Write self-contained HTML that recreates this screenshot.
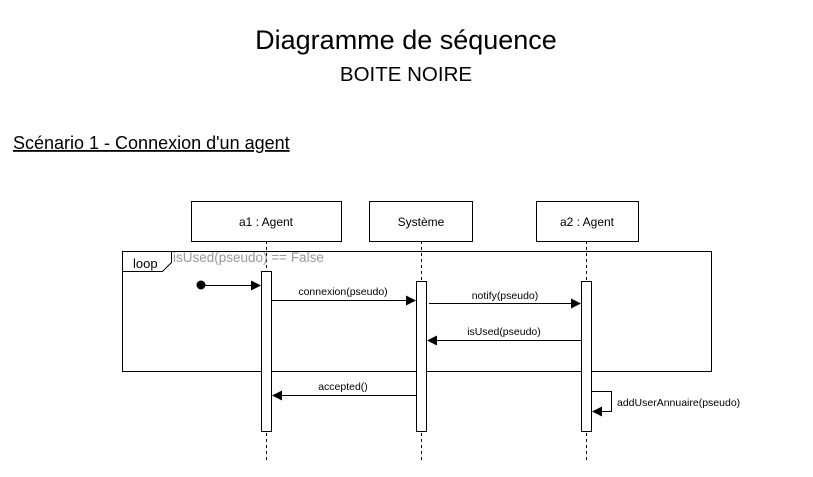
<!DOCTYPE html>
<html><head><meta charset="utf-8"><style>html,body{margin:0;padding:0;background:#fff;}</style></head>
<body>
<svg width="813" height="472" viewBox="0 0 813 472" xmlns="http://www.w3.org/2000/svg" font-family="Liberation Sans, Arial, sans-serif">
<defs>
<marker id="a" markerWidth="10" markerHeight="10" refX="9" refY="5" orient="auto" markerUnits="userSpaceOnUse"><path d="M0,0 L10,5 L0,10 Z" fill="#000"/></marker>
</defs>
<rect width="813" height="472" fill="#fff"/>
<text x="406" y="49" font-size="27" text-anchor="middle">Diagramme de séquence</text>
<text x="406" y="81" font-size="20.5" text-anchor="middle">BOITE NOIRE</text>
<text x="13" y="149" font-size="18" text-decoration="underline">Scénario 1 - Connexion d'un agent</text>
<g stroke="#000" stroke-dasharray="3,3" stroke-width="1">
<line x1="266.5" y1="241" x2="266.5" y2="462"/>
<line x1="421.5" y1="241" x2="421.5" y2="462"/>
<line x1="586.5" y1="241" x2="586.5" y2="462"/>
</g>
<g fill="#fff" stroke="#000" stroke-width="1">
<rect x="191.5" y="201.5" width="150" height="40"/>
<rect x="369.5" y="201.5" width="103" height="40"/>
<rect x="536.5" y="201.5" width="102" height="40"/>
</g>
<g font-size="12" text-anchor="middle">
<text x="266" y="226">a1 : Agent</text>
<text x="421" y="226">Système</text>
<text x="587" y="226">a2 : Agent</text>
</g>
<rect x="122.5" y="251.5" width="589" height="120" fill="none" stroke="#000"/>
<path d="M122.5,271.5 L162.5,271.5 L171.5,262.5 L171.5,251.5" fill="none" stroke="#000"/>
<text x="133" y="268" font-size="13">loop</text>
<text x="173" y="262" font-size="13.5" fill="#999">isUsed(pseudo) == False</text>
<g fill="#fff" stroke="#000">
<rect x="261.5" y="271.5" width="10" height="160"/>
<rect x="416.5" y="281.5" width="10" height="150"/>
<rect x="581.5" y="281.5" width="10" height="150"/>
</g>
<g stroke="#000" stroke-width="1" fill="none">
<circle cx="201" cy="285" r="4" fill="#000"/>
<line x1="201" y1="285.5" x2="260" y2="285.5" marker-end="url(#a)"/>
<line x1="272" y1="300.5" x2="415" y2="300.5" marker-end="url(#a)"/>
<line x1="429" y1="303.5" x2="580" y2="303.5" marker-end="url(#a)"/>
<line x1="581" y1="340.5" x2="428" y2="340.5" marker-end="url(#a)"/>
<line x1="416" y1="395.5" x2="273" y2="395.5" marker-end="url(#a)"/>
<path d="M591,391.5 L611.5,391.5 L611.5,411.5 L593,411.5" marker-end="url(#a)"/>
</g>
<g font-size="10.5" text-anchor="middle">
<text x="343" y="295">connexion(pseudo)</text>
<text x="505" y="299">notify(pseudo)</text>
<text x="504" y="335">isUsed(pseudo)</text>
<text x="343" y="390">accepted()</text>
<text x="617" y="406" text-anchor="start">addUserAnnuaire(pseudo)</text>
</g>
</svg>
</body></html>
